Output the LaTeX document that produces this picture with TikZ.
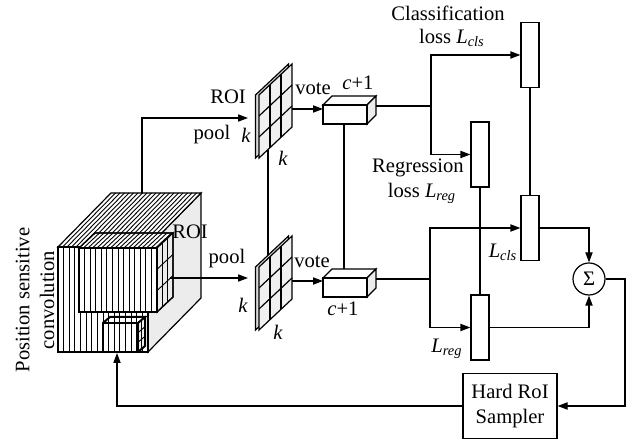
\documentclass[tikz,border=0pt]{standalone}
\usepackage{fontspec}
\setmainfont{Liberation Serif}
\usetikzlibrary{arrows.meta}
\begin{document}
\begin{tikzpicture}[x=0.5pt,y=-0.5pt, line width=0.6pt,
  arr/.style={-{Triangle[length=5pt,width=3.6pt]}},
  thk/.style={line width=1.1pt},
  hatch/.style={line width=0.45pt},
  lbl/.style={inner sep=0pt, font=\fontsize{10.3}{12.4}\selectfont},
  bar/.style={draw, fill=white, minimum width=9pt, minimum height=32.5pt, inner sep=0pt},
  side/.style={fill=gray!15, draw},
  cell/.style={fill=gray!12, draw}]
\useasboundingbox (0,0) rectangle (638,442);

% ---------------- connectors drawn first (behind shapes) -------------
\coordinate (gAbot) at (268,150);
\coordinate (gBtop) at (268,260);
\draw (gAbot) -- (gBtop);
\coordinate (bxAbot) at (344,124);
\coordinate (bxBtop) at (344,270);
\draw (bxAbot) -- (bxBtop);

% ---------------- big cube ------------------------------------------
\filldraw[side] (148,247) -- (201,193) -- (201,298) -- (148,352) -- cycle;
\filldraw[fill=white] (58,247) -- (111,193) -- (201,193) -- (148,247) -- cycle;
\foreach \i in {1,...,19} \draw[hatch] (58+4.5*\i,247) -- ++(53,-54);
\filldraw[fill=white] (58,247) rectangle (148,352);
\foreach \i in {1,...,15} \draw[hatch] (58+5.625*\i,247) -- ++(0,105);

% ROI sub-box
\filldraw[fill=white] (79,248) -- (95,233) -- (173,233) -- (157,248) -- cycle;
\foreach \i in {1,...,17} \draw[hatch] (79+4.5*\i,248) -- ++(16,-15);
\filldraw[side] (157,248) -- (173,233) -- (173,297) -- (157,312) -- cycle;
\foreach \j in {1,2} \draw[hatch] (157,248+21.33*\j) -- ++(16,-15);
\foreach \i in {1,2} \draw[hatch] (157+5.33*\i,248-5*\i) -- ++(0,64);
\filldraw[fill=white] (79,248) rectangle (157,312);
\foreach \i in {1,...,13} \draw[hatch] (79+5.57*\i,248) -- ++(0,64);
\draw (79,248) -- (95,233) -- (173,233) -- (173,297) -- (157,312) -- (79,312) -- cycle;

% small box at the bottom
\filldraw[side] (138,323) -- (145,317) -- (145,346) -- (138,352) -- cycle;
\foreach \j in {1,2} \draw[hatch] (138,323+9.67*\j) -- ++(7,-6);
\draw[hatch] (141.5,320) -- ++(0,29);
\draw[line width=1pt] (103,323) rectangle (138,352);
\draw[line width=1pt] (103,323) -- (110,317) -- (145,317) -- (138,323);
\draw[line width=1pt] (145,317) -- (145,346) -- (138,352);

\coordinate (cubeTop) at (142,193);
\coordinate (roiR) at (170,278);
\coordinate (smallBot) at (117,353);

% ---------------- k x k grids ---------------------------------------
\foreach \dy in {0,172} {
  \filldraw[fill=gray!30] (255.5,158+\dy) -- (288.5,127+\dy) -- (288.5,64+\dy) -- (255.5,95+\dy) -- cycle;
  \filldraw[cell] (259,158+\dy) -- (292,127+\dy) -- (292,64+\dy) -- (259,95+\dy) -- cycle;
  \foreach \i in {1,2} {
    \draw (259+11*\i,158-10.33*\i+\dy) -- ++(0,-63);
    \draw (259,158-21*\i+\dy) -- ++(33,-31);
  }
}
\coordinate (gAin) at (248,118);
\coordinate (gAout) at (292,109);
\coordinate (gBin) at (248,278);
\coordinate (gBout) at (292,281);

% ---------------- c+1 boxes ------------------------------------------
\foreach \dy in {0,173} {
  \filldraw[fill=white] (323,105+\dy) -- (332,96+\dy) -- (376,96+\dy) -- (367,105+\dy) -- cycle;
  \filldraw[side] (367,105+\dy) -- (376,96+\dy) -- (376,115+\dy) -- (367,124+\dy) -- cycle;
  \filldraw[fill=white] (323,105+\dy) rectangle (367,124+\dy);
}
\coordinate (bxAin) at (323,109);
\coordinate (bxBin) at (323,281);
\coordinate (bxAout) at (376,106);
\coordinate (bxBout) at (376,279);
\coordinate (jA0) at (420,106);
\coordinate (jB0) at (420,279);
\coordinate (jA) at (431,106);
\coordinate (jB) at (430,279);

% ---------------- loss bars, sum, sampler ----------------------------
\node[bar] (clsA) at (530,55) {};
\node[bar] (regA) at (480,154.5) {};
\node[bar] (clsB) at (530,228) {};
\node[bar] (regB) at (480,327.5) {};
\node[draw, circle, minimum size=16pt, inner sep=0pt, lbl] (sig) at (589,279) {Σ};
\node[draw, fill=white, minimum width=47pt, minimum height=32.5pt, inner sep=0pt,
      align=center, lbl] (hard) at (510,406) {Hard RoI\\Sampler};
\coordinate (cr) at (625,279);

% ---------------- connectors -----------------------------------------
\draw[arr] (cubeTop) |- (gAin);
\draw[arr] (roiR) -- (gBin);
\draw[arr] (gAout) -- (bxAin);
\draw[arr] (gBout) -- (bxBin);
\draw[thk] (bxAout) -- (jA0);
\draw (jA0) -- (jA);
\draw[thk] (bxBout) -- (jB0);
\draw (jB0) -- (jB);
\draw[arr] (jA) |- (clsA.west);
\draw[arr] (jA) |- (regA.west);
\draw[arr] (jB) |- (clsB.west);
\draw[arr] (jB) |- (regB.west);
\draw (clsA.south) -- (clsB.north);
\draw (regA.south) -- (regB.north);
\draw[arr] (clsB.east) -| (sig.north);
\draw[arr] (regB.east) -| (sig.south);
\draw[arr] (sig.east) -- (cr) |- (hard.east);
\draw[arr] (hard.west) -| (smallBot);

% ---------------- labels ----------------------------------------------
\node[lbl, rotate=90, align=center] (psc) at (35,300) {Position sensitive\\convolution};
\node[lbl] (roiA) at (228,97) {ROI};
\node[lbl] (poolA) at (212,135) {pool};
\node[lbl] (kA1) at (246,135) {\textit{k}};
\node[lbl] (kA2) at (283,158) {\textit{k}};
\node[lbl] (voteA) at (313,89) {vote};
\node[lbl] (cA) at (358,83) {\textit{c}+1};
\node[lbl] (roiB) at (190,232) {ROI};
\node[lbl] (poolB) at (227,259) {pool};
\node[lbl] (kB1) at (243,305) {\textit{k}};
\node[lbl] (kB2) at (278,332) {\textit{k}};
\node[lbl] (voteB) at (312,262) {vote};
\node[lbl] (cB) at (343,309) {\textit{c}+1};
\node[lbl] (clst) at (448,13) {Classification};
\node[lbl] (clsl) at (452,38) {loss \textit{L}\textsubscript{\textit{cls}}};
\node[lbl] (regt) at (418,168) {Regression};
\node[lbl] (regl) at (422,193) {loss \textit{L}\textsubscript{\textit{reg}}};
\node[lbl] (lcls) at (503,252) {\textit{L}\textsubscript{\textit{cls}}};
\node[lbl] (lreg) at (447,349) {\textit{L}\textsubscript{\textit{reg}}};
\end{tikzpicture}
\end{document}
